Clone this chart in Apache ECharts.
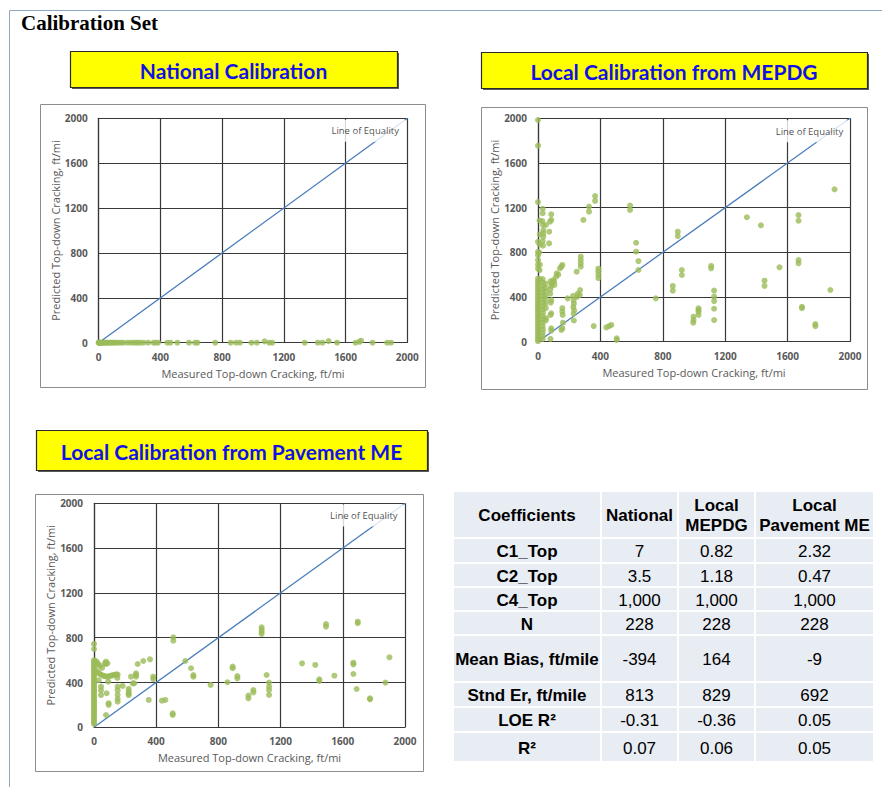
<!DOCTYPE html>
<html>
<head>
<meta charset="utf-8">
<script src="https://cdn.jsdelivr.net/npm/echarts@6/dist/echarts.min.js"></script>
<style>
  html, body { margin: 0; padding: 0; background: #ffffff; }
  #chart { width: 882px; height: 787px; }
</style>
</head>
<body>
<div id="chart"></div>
<script>
// ---- Axis setup (ft/mi) ----
const axisMin = 0;
const axisMax = 2000;
const axisStep = 400;

// ---- Panel titles and axis names ----
const pageTitle = 'Calibration Set';
const panelTitles = ['National Calibration', 'Local Calibration from MEPDG', 'Local Calibration from Pavement ME'];
const xAxisName = 'Measured Top-down Cracking, ft/mi';
const yAxisName = 'Predicted Top-down Cracking, ft/mi';
const equalityName = 'Line of Equality';
const equalityLine = [[0, 0], [2000, 2000]];

// ---- Measured vs predicted top-down cracking, ft/mi ----
const nationalPoints = [
  [0, 0], [0, 0], [3, 0], [6, 0], [10, 0], [14, 0], [18, 0], [22, 0], [28, 0], [35, 0],
  [42, 0], [50, 0], [58, 0], [66, 0], [75, 0], [85, 0], [95, 0], [105, 0], [118, 0], [130, 0],
  [145, 0], [160, 0], [185, 0], [205, 0], [225, 0], [240, 0], [255, 0], [270, 0], [290, 0], [320, 0],
  [355, 0], [370, 0], [385, 0], [445, 0], [465, 0], [510, 0], [585, 0], [625, 0], [640, 0], [755, 0],
  [855, 0], [890, 0], [915, 0], [990, 0], [1025, 0], [1075, 12], [1105, 0], [1125, 0], [1335, 0], [1420, 0],
  [1450, 0], [1490, 14], [1545, 0], [1665, 0], [1690, 8], [1700, 18], [1775, 0], [1870, 0], [1895, 0]
];

const mepdgPoints = [
  [0, 1985], [0, 1755], [0, 1250], [0, 895], [0, 805], [0, 775], [0, 730], [0, 690], [0, 655], [0, 565],
  [0, 540], [0, 520], [0, 500], [0, 480], [0, 460], [0, 440], [0, 420], [0, 400], [0, 380], [0, 360],
  [0, 340], [0, 320], [0, 300], [0, 280], [0, 260], [0, 240], [0, 220], [0, 200], [0, 180], [0, 160],
  [0, 140], [0, 120], [0, 100], [0, 80], [0, 60], [0, 40], [0, 20], [0, 5],
  [10, 1085], [12, 960], [10, 870], [8, 800], [12, 690], [10, 640], [12, 560],
  [30, 1190], [30, 1150], [28, 1080], [32, 1045], [34, 1000], [34, 970], [34, 940], [30, 900], [32, 860],
  [30, 560], [30, 530], [32, 500], [30, 470], [30, 440], [32, 410], [30, 380], [32, 350], [30, 320],
  [30, 290], [32, 260], [30, 230], [30, 200], [30, 170], [30, 140], [32, 110], [30, 80], [30, 50], [30, 25],
  [51, 1045], [48, 520], [48, 480], [50, 450], [48, 410], [50, 380], [48, 340], [50, 300], [52, 210], [50, 190],
  [85, 1140], [85, 1090], [77, 1075], [72, 985], [71, 880], [80, 540], [85, 500], [80, 470], [78, 430],
  [85, 372], [82, 350], [85, 254], [80, 240], [85, 120], [85, 100], [80, 25],
  [98, 552], [88, 523], [120, 612], [116, 582], [130, 600], [141, 657], [156, 687], [150, 672], [103, 537],
  [105, 508], [156, 300], [156, 270], [158, 240], [160, 170], [156, 120], [150, 105],
  [190, 388], [225, 410], [228, 370], [230, 340], [226, 310], [232, 280], [228, 250], [230, 190],
  [255, 430], [250, 400], [248, 627], [274, 761], [274, 730], [274, 700], [274, 672], [270, 463], [268, 418],
  [291, 1090], [327, 1209], [327, 1164], [366, 1304], [366, 1260], [357, 140],
  [387, 655], [387, 630], [387, 600], [387, 570], [438, 128], [456, 140], [470, 150], [505, 30], [505, 15],
  [590, 1218], [590, 1179], [629, 886], [629, 806], [644, 722], [644, 642], [755, 388],
  [864, 499], [864, 457], [896, 985], [896, 946], [922, 642], [922, 597],
  [997, 224], [997, 194], [995, 170], [1029, 299], [1029, 284], [1029, 269], [1029, 239],
  [1110, 678], [1110, 657], [1129, 457], [1129, 403], [1129, 364], [1129, 295], [1129, 194],
  [1339, 1114], [1429, 1042], [1452, 546], [1452, 499], [1548, 666],
  [1670, 1134], [1670, 1083], [1670, 731], [1670, 702], [1692, 313], [1692, 300],
  [1778, 158], [1778, 140], [1874, 463], [1901, 1364]
];

const pavementPoints = [
  [0, 744], [0, 699], [0, 601], [0, 585], [0, 570], [0, 555], [0, 540], [0, 525], [0, 510], [0, 495],
  [0, 480], [0, 465], [0, 450], [0, 435], [0, 420], [0, 405], [0, 390], [0, 375], [0, 360], [0, 345],
  [0, 330], [0, 315], [0, 300], [0, 285], [0, 270], [0, 255], [0, 240], [0, 225], [0, 210], [0, 195],
  [0, 180], [0, 165], [0, 150], [0, 135], [0, 120], [0, 105], [0, 90], [0, 75], [0, 60], [0, 45], [0, 30],
  [13, 590], [22, 575], [30, 560], [40, 545], [52, 530], [70, 571], [77, 586], [77, 565], [86, 571],
  [15, 505], [25, 490], [35, 480], [45, 470], [56, 462], [66, 458], [75, 455], [85, 452], [95, 456],
  [105, 460], [115, 463], [125, 466], [135, 470], [145, 473], [152, 470], [150, 440], [92, 408],
  [30, 420], [45, 363], [45, 330], [45, 288], [81, 304], [94, 215], [94, 200], [77, 110],
  [152, 363], [152, 330], [152, 290], [152, 255], [152, 229], [184, 369],
  [223, 343], [223, 320], [223, 300], [223, 288], [238, 452], [249, 393], [259, 393],
  [281, 565], [317, 592], [360, 607], [270, 452], [270, 482], [270, 467], [381, 452], [381, 431],
  [352, 244], [437, 238], [459, 244], [510, 803], [510, 773], [506, 125], [506, 110],
  [587, 592], [624, 527], [639, 467], [639, 452], [750, 378], [858, 402],
  [892, 542], [892, 527], [922, 458], [922, 437], [993, 283], [993, 259], [1025, 333], [1025, 312],
  [1078, 893], [1078, 873], [1078, 853], [1078, 833], [1110, 467],
  [1126, 399], [1126, 363], [1126, 333], [1126, 289], [1338, 571], [1423, 557], [1449, 429], [1449, 414],
  [1492, 922], [1492, 899], [1546, 461], [1668, 577], [1668, 562], [1668, 476], [1689, 342],
  [1696, 943], [1696, 929], [1775, 259], [1775, 250], [1874, 399], [1900, 625]
];

// ---- Calibration coefficients and statistics ----
const tableHeader = ['Coefficients', 'National', 'Local\nMEPDG', 'Local\nPavement ME'];
const rowLabels = ['C1_Top', 'C2_Top', 'C4_Top', 'N', 'Mean Bias, ft/mile', 'Stnd Er, ft/mile', 'LOE R\u00B2', 'R\u00B2'];
const nationalValues = ['7', '3.5', '1,000', '228', '-394', '813', '-0.31', '0.07'];
const mepdgValues = ['0.82', '1.18', '1,000', '228', '164', '829', '-0.36', '0.06'];
const pavementValues = ['2.32', '0.47', '1,000', '228', '-9', '692', '0.05', '0.05'];

// ---- Layout ----
const FONT = "'Open Sans', 'DejaVu Sans', sans-serif";
const panels = [
  { grid: { left: 98.7, top: 118.3, width: 308.6, height: 224.4 }, frame: [40, 104, 385, 283],
    banner: [70, 51, 327, 36], points: nationalPoints, labelAt: [1727, 1890] },
  { grid: { left: 538, top: 118.3, width: 312, height: 223.4 }, frame: [481, 107, 386, 282],
    banner: [481, 52, 386, 36], points: mepdgPoints, labelAt: [1740, 1885] },
  { grid: { left: 94, top: 503.3, width: 311, height: 224 }, frame: [35, 494, 388, 277],
    banner: [36, 430, 391, 40], points: pavementPoints, labelAt: [1735, 1890] }
];
const colEdges = [453, 601, 678, 755, 874];
const rowEdges = [491, 538, 563, 587, 611, 635, 682, 707, 732, 762];

const grids = [], xAxes = [], yAxes = [], series = [], graphics = [];

const tickLabel = { color: '#595959', fontSize: 10, fontFamily: FONT, fontWeight: 'bold',
                    formatter: v => String(v) };
const gridLine = { color: '#383838', width: 1.2 };

panels.forEach((p, i) => {
  grids.push(Object.assign({ containLabel: false }, p.grid));
  xAxes.push({
    gridIndex: i, type: 'value', min: axisMin, max: axisMax, interval: axisStep,
    axisLine: { show: true, lineStyle: gridLine }, axisTick: { show: false },
    splitLine: { show: true, lineStyle: gridLine },
    axisLabel: Object.assign({ margin: 9 }, tickLabel),
    name: xAxisName, nameLocation: 'middle', nameGap: 25,
    nameTextStyle: { color: '#595959', fontSize: 11, fontFamily: FONT }
  });
  yAxes.push({
    gridIndex: i, type: 'value', min: axisMin, max: axisMax, interval: axisStep,
    axisLine: { show: true, lineStyle: gridLine }, axisTick: { show: false },
    splitLine: { show: true, lineStyle: gridLine },
    axisLabel: Object.assign({ margin: 11 }, tickLabel),
    name: yAxisName, nameLocation: 'middle', nameGap: 35,
    nameTextStyle: { color: '#595959', fontSize: 11, fontFamily: FONT }
  });
  series.push({
    type: 'line', xAxisIndex: i, yAxisIndex: i, data: equalityLine, symbol: 'none',
    lineStyle: { color: '#4a7ebb', width: 1.3 }, z: 2, silent: true
  });
  series.push({
    type: 'scatter', xAxisIndex: i, yAxisIndex: i, data: p.points, symbolSize: 6,
    itemStyle: { color: '#9bbb59' }, z: 3, silent: true
  });
  series.push({
    type: 'scatter', xAxisIndex: i, yAxisIndex: i, data: [p.labelAt],
    symbol: 'rect', symbolSize: [80, 22], itemStyle: { color: '#ffffff' }, z: 4, silent: true,
    label: { show: true, position: 'inside', formatter: equalityName, color: '#1a1a1a',
             fontSize: 9.5, fontFamily: FONT }
  });

  // outer chart frame
  graphics.push({ type: 'rect', shape: { x: p.frame[0] + 0.5, y: p.frame[1] + 0.5, width: p.frame[2], height: p.frame[3] },
    style: { fill: 'none', stroke: '#8c8c8c', lineWidth: 1 }, z: 1 });
  // yellow banner
  const b = p.banner;
  graphics.push({ type: 'rect', shape: { x: b[0] + 2, y: b[1] + 2, width: b[2], height: b[3] },
    style: { fill: '#5a5a5a' }, z: 1 });
  graphics.push({ type: 'rect', shape: { x: b[0] + 0.5, y: b[1] + 0.5, width: b[2], height: b[3] },
    style: { fill: '#ffff00', stroke: '#2a2a2a', lineWidth: 1.2 }, z: 2 });
  graphics.push({ type: 'text', x: b[0] + b[2] / 2, y: b[1] + b[3] / 2 + 1,
    style: { text: panelTitles[i], align: 'center', verticalAlign: 'middle',
             font: "bold 21px Lato, 'Open Sans', sans-serif", fill: '#1212e6' }, z: 3 });
});

// page title and border
graphics.push({ type: 'line', shape: { x1: 9.5, y1: 10.5, x2: 882, y2: 10.5 },
  style: { stroke: '#8fa6c4', lineWidth: 1 }, z: 1 });
graphics.push({ type: 'line', shape: { x1: 9.5, y1: 10.5, x2: 9.5, y2: 787 },
  style: { stroke: '#8fa6c4', lineWidth: 1 }, z: 1 });
graphics.push({ type: 'text', x: 21, y: 23,
  style: { text: pageTitle, align: 'left', verticalAlign: 'middle',
           font: "bold 21px 'Liberation Serif', 'Times New Roman', serif", fill: '#000000' }, z: 3 });

// coefficient table
const columns = [rowLabels, nationalValues, mepdgValues, pavementValues];
for (let c = 0; c < 4; c++) {
  for (let r = 0; r < rowEdges.length - 1; r++) {
    const x0 = colEdges[c], x1 = colEdges[c + 1], y0 = rowEdges[r], y1 = rowEdges[r + 1];
    graphics.push({ type: 'rect', shape: { x: x0 + 1, y: y0 + 1, width: x1 - x0 - 2, height: y1 - y0 - 2 },
      style: { fill: '#e8ecf3' }, z: 1 });
    const isHeader = r === 0;
    const txt = isHeader ? tableHeader[c] : columns[c][r - 1];
    const bold = isHeader || c === 0;
    graphics.push({ type: 'text', x: (x0 + x1) / 2, y: (y0 + y1) / 2 + 1,
      style: { text: txt, align: 'center', verticalAlign: 'middle', lineHeight: 20,
               font: (bold ? 'bold ' : '') + "17px 'Liberation Sans', Arial, sans-serif", fill: '#000000' }, z: 3 });
  }
}

const chart = echarts.init(document.getElementById('chart'), null, { renderer: 'svg', width: 882, height: 787 });
chart.setOption({
  animation: false,
  backgroundColor: '#ffffff',
  grid: grids,
  xAxis: xAxes,
  yAxis: yAxes,
  series: series,
  graphic: { elements: graphics }
});
</script>
</body>
</html>
